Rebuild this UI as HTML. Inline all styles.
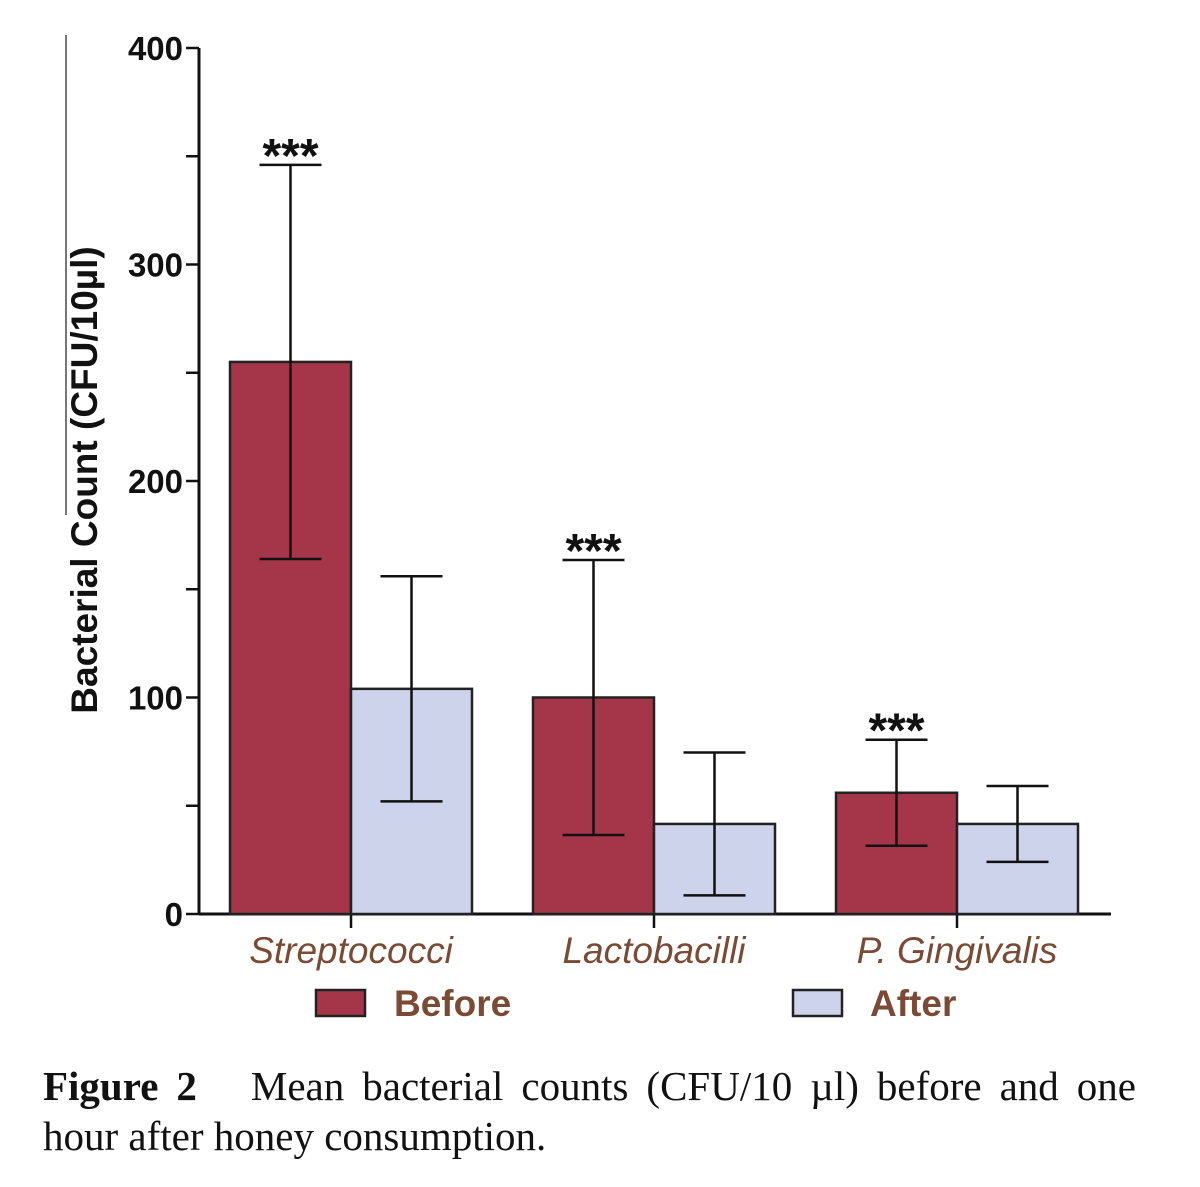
<!DOCTYPE html>
<html><head><meta charset="utf-8"><style>
html,body{margin:0;padding:0;background:#fff;}
svg{display:block;}
.cap{position:absolute;left:43px;width:1093px;font-family:"Liberation Serif",serif;font-size:41px;color:#111;white-space:nowrap;line-height:1;}
</style></head><body>
<svg id="chart" width="1200" height="1187" viewBox="0 0 1200 1187" xmlns="http://www.w3.org/2000/svg">
<line x1="66" y1="35" x2="66" y2="515" stroke="#777" stroke-width="2"/>
<g id="axes"></g>
<g id="bars"></g>
<text x="97" y="480" transform="rotate(-90 97 480)" text-anchor="middle" font-family="Liberation Sans, sans-serif" font-weight="bold" font-size="37" fill="#111">Bacterial Count (CFU/10µl)</text>
<g>
<rect x="316" y="990" width="49" height="26" fill="#a5364a" stroke="#222" stroke-width="2.5"/>
<text x="394" y="1016" font-family="Liberation Sans, sans-serif" font-weight="bold" font-size="37" fill="#7a4a35">Before</text>
<rect x="793" y="990" width="49" height="26" fill="#cdd3ea" stroke="#222" stroke-width="2.5"/>
<text x="870" y="1016" font-family="Liberation Sans, sans-serif" font-weight="bold" font-size="37" fill="#7a4a35">After</text>
</g>
</svg>
<div class="cap" style="top:1066px;text-align:justify;text-align-last:justify;white-space:normal;"><b>Figure 2</b>&nbsp;&nbsp; Mean bacterial counts (CFU/10 µl) before and one</div>
<div class="cap" style="top:1116px;">hour after honey consumption.</div>
<script>
const categories = ["Streptococci", "Lactobacilli", "P. Gingivalis"];
const beforeMeans = [255, 100, 56];
const beforeErr = [91, 63.5, 24.5];
const afterMeans = [104, 41.6, 41.6];
const afterErr = [52, 33, 17.5];
const yTicks = [0, 100, 200, 300, 400];
const sigLabels = ["***", "***", "***"];

const NS = "http://www.w3.org/2000/svg";
const y0 = 914, yTop = 48, yMax = 400;
const yScale = v => y0 - (v / yMax) * (y0 - yTop);
const groupCenter = i => 351 + i * 303;
const barW = 121;
function mk(tag, attrs, parent) {
  const e = document.createElementNS(NS, tag);
  for (const k in attrs) e.setAttribute(k, attrs[k]);
  parent.appendChild(e);
  return e;
}
const axes = document.getElementById("axes");
const bars = document.getElementById("bars");

let yl = mk("line", {x1:199, y1:yTop, x2:199, y2:y0, stroke:"#111", "stroke-width":3}, axes);


let xl = mk("line", {x1:199, y1:y0, x2:1111, y2:y0, stroke:"#111", "stroke-width":3}, axes);



for (let t = 0; t < yMax; t += 50) {
  const tk = mk("line", {x1:186, y1:yScale(t+50), x2:199, y2:yScale(t+50), stroke:"#111", "stroke-width":2.5}, axes);
  
  
}
const tk0 = mk("line", {x1:186, y1:y0, x2:199, y2:y0, stroke:"#111", "stroke-width":2.5}, axes);


yTicks.forEach(v => {
  const t = mk("text", {x:183, y:yScale(v)+12, "text-anchor":"end", "font-family":"Liberation Sans, sans-serif", "font-weight":"bold", "font-size":33, fill:"#111"}, axes);
  t.textContent = v;
  
  
});

function errBar(cx, top, bot, name) {
  const g = mk("g", {stroke:"#111", "stroke-width":2.5}, bars);
  
  
  mk("line", {x1:cx, y1:top, x2:cx, y2:bot}, g);
  mk("line", {x1:cx-31, y1:top, x2:cx+31, y2:top}, g);
  mk("line", {x1:cx-31, y1:bot, x2:cx+31, y2:bot}, g);
}

categories.forEach((c, i) => {
  const cx = groupCenter(i);
  const b = mk("rect", {x:cx-barW, y:yScale(beforeMeans[i]), width:barW, height:y0-yScale(beforeMeans[i]), fill:"#a5364a", stroke:"#222", "stroke-width":2.5}, bars);
  
  
  const a = mk("rect", {x:cx, y:yScale(afterMeans[i]), width:barW, height:y0-yScale(afterMeans[i]), fill:"#cdd3ea", stroke:"#222", "stroke-width":2.5}, bars);
  
  
  errBar(cx-barW/2, yScale(beforeMeans[i]+beforeErr[i]), yScale(beforeMeans[i]-beforeErr[i]), 'error-bar-before');
  errBar(cx+barW/2, yScale(afterMeans[i]+afterErr[i]), yScale(afterMeans[i]-afterErr[i]), 'error-bar-after');
  const s = mk("text", {x:cx-barW/2, y:yScale(beforeMeans[i]+beforeErr[i])+7, "text-anchor":"middle", "font-family":"Liberation Sans, sans-serif", "font-weight":"bold", "font-size":48, fill:"#111"}, bars);
  s.textContent = sigLabels[i];
  
  
  const xt = mk("line", {x1:cx, y1:y0, x2:cx, y2:y0+14, stroke:"#111", "stroke-width":2.5}, axes);
  
  
  const l = mk("text", {x:cx, y:963, "text-anchor":"middle", "font-family":"Liberation Sans, sans-serif", "font-style":"italic", "font-size":37, fill:"#7a4a35"}, axes);
  l.textContent = c;
  
  
});
</script>
</body></html>
